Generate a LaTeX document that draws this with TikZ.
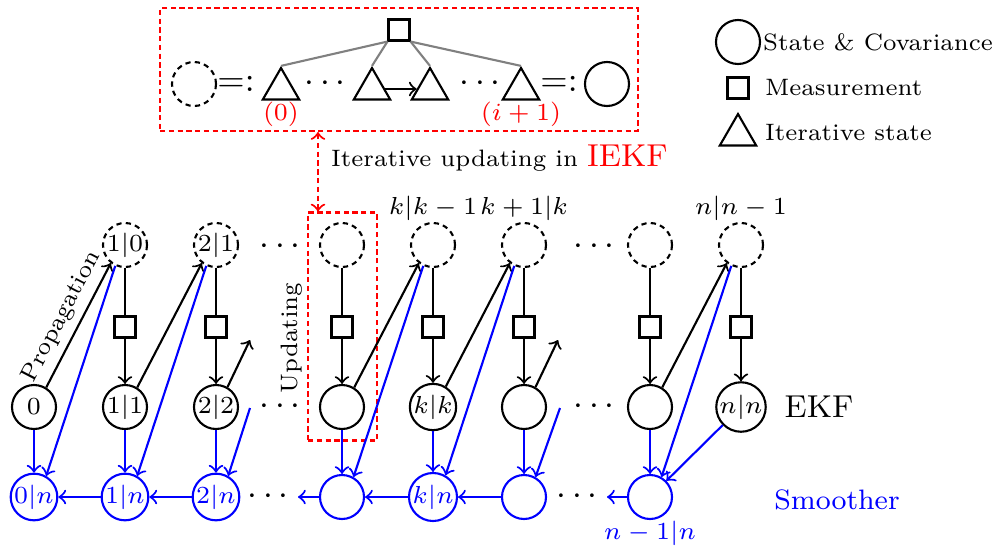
\documentclass[tikz,border=0pt]{standalone}
\usetikzlibrary{arrows,shapes.geometric}

\begin{document}
\begin{tikzpicture}
  [semithick,font=\fontsize{6.75}{8}\selectfont,
   st/.style={circle,draw,minimum size=0.44cm,inner sep=0pt},
   pr/.style={st,dash pattern=on 1.5pt off 1.2pt},
   sm/.style={st,blue,text=blue},
   ms/.style={rectangle,draw,minimum size=0.21cm,inner sep=0pt},
   it/.style={regular polygon,regular polygon sides=3,draw,minimum size=0.42cm,inner sep=0pt},
   box/.style={draw,red,dash pattern=on 1.5pt off 1pt,inner sep=0pt}]
  \useasboundingbox (0,0) rectangle (9.98,-5.45);

  % iterative update
  \node[box,minimum width=4.78cm,minimum height=1.23cm] (iekf) at (3.99,-0.695) {};
  \node[ms] (m0) at (3.99,-0.30) {};
  \node[pr] (c0) at (1.94,-0.84) {};
  \node (q0) at (2.36,-0.84) {\normalsize$=:$};
  \node[it,label={[red,inner sep=0pt]below:$(0)$}] (t0) at (2.81,-0.89) {};
  \node (d0) at (3.25,-0.84) {\normalsize$\cdots$};
  \node[it] (t1) at (3.72,-0.89) {};
  \node[it] (t2) at (4.30,-0.89) {};
  \node (d7) at (4.80,-0.84) {\normalsize$\cdots$};
  \node[it,label={[red,inner sep=0pt]below:$(i+1)$}] (t3) at (5.21,-0.89) {};
  \node (q1) at (5.59,-0.84) {\normalsize$=:$};
  \node[st] (c1) at (6.07,-0.84) {};
  \draw[gray] (m0.south west) -- (t0.north);
  \draw[gray] (m0.south west) -- (t1.north);
  \draw[gray] (m0.south east) -- (t2.north);
  \draw[gray] (m0.south east) -- (t3.north);
  \draw[->] (t1) -- (t2);

  % legend
  \node[st] (l1) at (7.38,-0.42) {};
  \node[anchor=west,inner sep=0pt] (l1t) at (7.62,-0.42) {State \& Covariance};
  \node[ms] (l2) at (7.38,-0.88) {};
  \node[anchor=west,inner sep=0pt] (l2t) at (7.64,-0.88) {Measurement};
  \node[it] (l3) at (7.38,-1.35) {};
  \node[anchor=west,inner sep=0pt] (l3t) at (7.64,-1.33) {Iterative state};

  \node[anchor=west,inner sep=0pt] (iu) at (3.30,-1.58) {Iterative updating in \textcolor{red}{\small IEKF}};
  \node[box,minimum width=0.69cm,minimum height=2.28cm] (upd) at (3.425,-3.265) {};
  \node[rotate=90] (ul) at (2.92,-3.38) {Updating};
  \coordinate (ax) at (3.18,0);
  \draw[red,dash pattern=on 1.5pt off 1pt,<->] (iekf.south -| ax) -- (upd.north -| ax);

  % prediction
  \node[pr] (p1) at (1.25,-2.45) {$1|0$};
  \node[pr] (p2) at (2.16,-2.45) {$2|1$};
  \node[pr] (p3) at (3.42,-2.45) {};
  \node[pr,label={[inner sep=0pt]above:$k|k-1$}] (p4) at (4.33,-2.45) {};
  \node[pr,label={[inner sep=0pt]above:$k+1|k$}] (p5) at (5.24,-2.45) {};
  \node[pr] (p6) at (6.50,-2.45) {};
  \node[pr,label={[inner sep=0pt]above:$n|n-1$}] (p7) at (7.41,-2.45) {};

  \foreach \i/\x in {1/1.25,2/2.16,3/3.42,4/4.33,5/5.24,6/6.50,7/7.41}
    \node[ms] (m\i) at (\x,-3.27) {};

  % EKF
  \node[st] (e0) at (0.34,-4.07) {$0$};
  \node[st] (e1) at (1.25,-4.07) {$1|1$};
  \node[st] (e2) at (2.16,-4.07) {$2|2$};
  \node[st] (e3) at (3.42,-4.07) {};
  \node[st] (e4) at (4.33,-4.07) {$k|k$};
  \node[st] (e5) at (5.24,-4.07) {};
  \node[st] (e6) at (6.50,-4.07) {};
  \node[st] (e7) at (7.41,-4.07) {$n|n$};
  \node (ekf) at (8.19,-4.07) {\small EKF};

  % smoother
  \node[sm] (s0) at (0.34,-4.97) {$0|n$};
  \node[sm] (s1) at (1.25,-4.97) {$1|n$};
  \node[sm] (s2) at (2.16,-4.97) {$2|n$};
  \node[sm] (s3) at (3.42,-4.97) {};
  \node[sm] (s4) at (4.33,-4.97) {$k|n$};
  \node[sm] (s5) at (5.24,-4.97) {};
  \node[sm,label={[blue,inner sep=0pt]below:$n-1|n$}] (s6) at (6.50,-4.97) {};
  \node[blue] (smo) at (8.37,-5.00) {\footnotesize Smoother};

  \node (d1) at (2.80,-2.47) {\normalsize$\cdots$};
  \node (d2) at (2.80,-4.07) {\normalsize$\cdots$};
  \node (d3) at (2.68,-4.97) {\normalsize$\cdots$};
  \node (d4) at (5.94,-2.47) {\normalsize$\cdots$};
  \node (d5) at (5.94,-4.07) {\normalsize$\cdots$};
  \node (d6) at (5.77,-4.97) {\normalsize$\cdots$};

  \coordinate (pa) at (2.50,-3.40);
  \coordinate (pb) at (2.50,-4.08);
  \coordinate (qa) at (5.58,-3.40);
  \coordinate (qb) at (5.60,-4.08);
  \coordinate (ra) at (2.98,-4.97);
  \coordinate (rb) at (6.07,-4.97);

\foreach \i in {1,...,7}
  {\draw (p\i) -- (m\i);
   \draw[->] (m\i) -- (e\i);}
  \draw[->] (e0.58) -- node[sloped,above,inner sep=2pt]{Propagation} (p1.232);
\foreach \from/\to in {e1/p2,e3/p4,e4/p5,e6/p7}
    \draw[->] (\from.58) -- (\to.232);
  \draw[->] (e2.60) -- (pa);
  \draw[->] (e5.60) -- (qa);

\foreach \from/\to in {p1/s0,p2/s1,p4/s3,p5/s4,p7/s6}
    \draw[->,blue] (\from.245) -- (\to.60);
  \draw[->,blue] (pb) -- (s2.60);
  \draw[->,blue] (qb) -- (s5.60);
\foreach \i in {0,...,6}
    \draw[->,blue] (e\i) -- (s\i);
  \draw[->,blue] (e7) -- (s6);
\foreach \from/\to in {s1/s0,s2/s1,s4/s3,s5/s4,s3/ra,s6/rb}
    \draw[->,blue] (\from) -- (\to);
\end{tikzpicture}
\end{document}
